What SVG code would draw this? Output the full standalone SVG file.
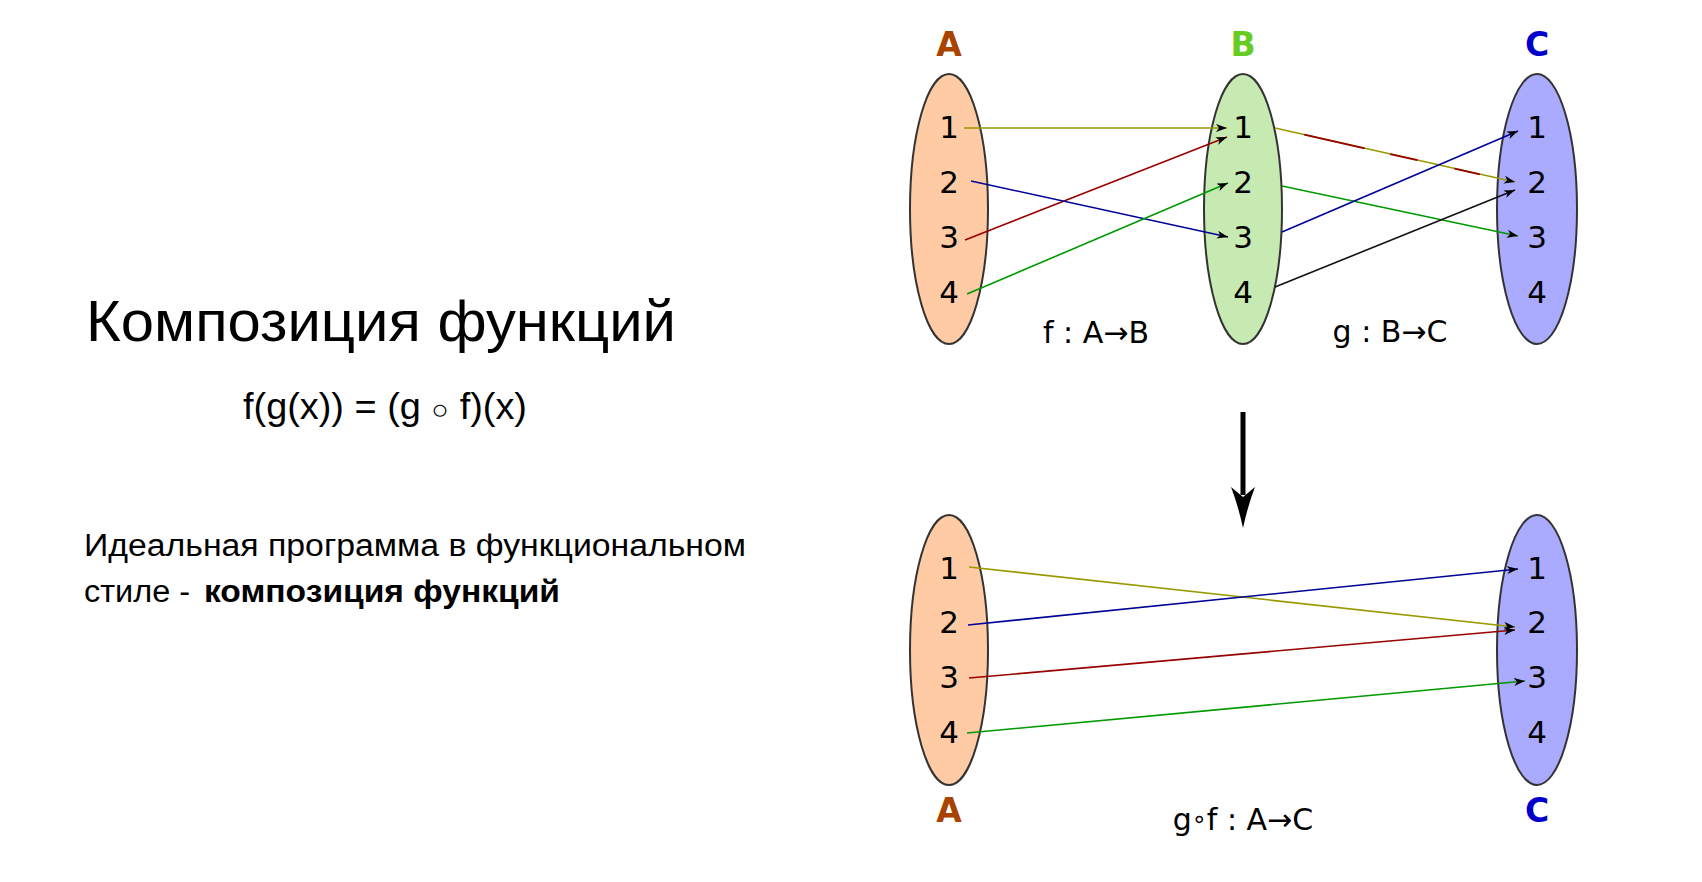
<svg xmlns="http://www.w3.org/2000/svg" width="1702" height="882" viewBox="0 0 1702 882">
  <defs>
    <marker id="ah" markerUnits="userSpaceOnUse" markerWidth="12" markerHeight="8" refX="11" refY="4" orient="auto">
      <path d="M0,0 L11,4 L0,8 L3,4 z" fill="#000"/>
    </marker>
    <style>
      .set{stroke:#333;stroke-width:2}
      .num{font-family:"DejaVu Sans",sans-serif;font-size:31px;fill:#000;text-anchor:middle}
      .lbl{font-family:"DejaVu Sans",sans-serif;font-size:33px;font-weight:bold;text-anchor:middle}
      .fn{font-family:"DejaVu Sans",sans-serif;font-size:30px;fill:#000;text-anchor:middle}
      .c{fill:none;stroke-width:1.6;marker-end:url(#ah)}
      .ol{stroke:#999900}.rd{stroke:#990000}.bl{stroke:#000099}.gr{stroke:#009900}.bk{stroke:#111}
      .lt{font-family:"Liberation Sans",Arial,sans-serif;fill:#000}
    </style>
  </defs>
  <rect width="1702" height="882" fill="#fff"/>

  <g id="left-text">
    <text class="lt" x="86" y="341" font-size="57" textLength="590" lengthAdjust="spacingAndGlyphs">Композиция функций</text>
    <text class="lt" x="243" y="419" font-size="36" textLength="284" lengthAdjust="spacingAndGlyphs">f(g(x)) = (g <tspan font-size="28">○</tspan> f)(x)</text>
    <text class="lt" x="84" y="556" font-size="31" textLength="662" lengthAdjust="spacingAndGlyphs">Идеальная программа в функциональном</text>
    <text class="lt" x="84" y="602" font-size="31" textLength="106" lengthAdjust="spacingAndGlyphs">стиле -</text>
    <text class="lt" x="204" y="602" font-size="31" font-weight="bold" textLength="356" lengthAdjust="spacingAndGlyphs">композиция функций</text>
  </g>

  <g id="set-A-top">
    <ellipse class="set" cx="949" cy="209" rx="39" ry="135" fill="#fecba5"/>
    <text class="lbl" x="949" y="56" fill="#a94400">A</text>
    <text class="num" x="949" y="138">1</text>
    <text class="num" x="949" y="193">2</text>
    <text class="num" x="949" y="248">3</text>
    <text class="num" x="949" y="303">4</text>
  </g>
  <g id="set-B-top">
    <ellipse class="set" cx="1243" cy="209" rx="39" ry="135" fill="#c6eab2"/>
    <text class="lbl" x="1243" y="56" fill="#66cc22">B</text>
    <text class="num" x="1243" y="138">1</text>
    <text class="num" x="1243" y="193">2</text>
    <text class="num" x="1243" y="248">3</text>
    <text class="num" x="1243" y="303">4</text>
  </g>
  <g id="set-C-top">
    <ellipse class="set" cx="1537" cy="209" rx="40" ry="135" fill="#aaaaff"/>
    <text class="lbl" x="1537" y="56" fill="#0000cc">C</text>
    <text class="num" x="1537" y="138">1</text>
    <text class="num" x="1537" y="193">2</text>
    <text class="num" x="1537" y="248">3</text>
    <text class="num" x="1537" y="303">4</text>
  </g>
  <g id="set-A-bottom">
    <ellipse class="set" cx="949" cy="650" rx="39" ry="135" fill="#fecba5"/>
    <text class="lbl" x="949" y="822" fill="#a94400">A</text>
    <text class="num" x="949" y="579">1</text>
    <text class="num" x="949" y="633">2</text>
    <text class="num" x="949" y="688">3</text>
    <text class="num" x="949" y="743">4</text>
  </g>
  <g id="set-C-bottom">
    <ellipse class="set" cx="1537" cy="650" rx="40" ry="135" fill="#aaaaff"/>
    <text class="lbl" x="1537" y="822" fill="#0000cc">C</text>
    <text class="num" x="1537" y="579">1</text>
    <text class="num" x="1537" y="633">2</text>
    <text class="num" x="1537" y="688">3</text>
    <text class="num" x="1537" y="743">4</text>
  </g>

  <g id="function-labels">
    <text class="fn" x="1096" y="343">f : A→B</text>
    <text class="fn" x="1390" y="342">g : B→C</text>
    <text class="fn" x="1243" y="830">g<tspan font-size="24" dy="-3">∘</tspan><tspan dy="3">f : A→C</tspan></text>
  </g>

  <g id="connectors">
    <line class="c ol" x1="964" y1="128" x2="1227" y2="128"/>
    <line class="c rd" x1="965" y1="240" x2="1227" y2="137"/>
    <line class="c bl" x1="971" y1="181" x2="1228" y2="237"/>
    <line class="c gr" x1="967" y1="294" x2="1228" y2="183"/>
    <line class="c ol" x1="1275" y1="128" x2="1515" y2="182"/>
    <line fill="none" stroke="#990000" stroke-width="1.8" stroke-dasharray="0 30 62 26 28 38 26 200" x1="1275" y1="128" x2="1505" y2="180"/>
    <line class="c gr" x1="1282" y1="186" x2="1518" y2="236"/>
    <line class="c bl" x1="1282" y1="232" x2="1518" y2="131"/>
    <line class="c bk" x1="1275" y1="287" x2="1515" y2="190"/>

    <line class="c ol" x1="969" y1="567" x2="1515" y2="627"/>
    <line class="c bl" x1="968" y1="625" x2="1518" y2="569"/>
    <line class="c rd" x1="969" y1="678" x2="1515" y2="630"/>
    <line class="c gr" x1="967" y1="733" x2="1525" y2="681"/>

    <g id="compose-arrow">
      <line x1="1243" y1="412" x2="1243" y2="495" stroke="#000" stroke-width="5"/>
      <path d="M1231,487 Q1238,505 1243,528 Q1248,505 1255,487 L1243,497 z" fill="#000"/>
    </g>
  </g>
</svg>
